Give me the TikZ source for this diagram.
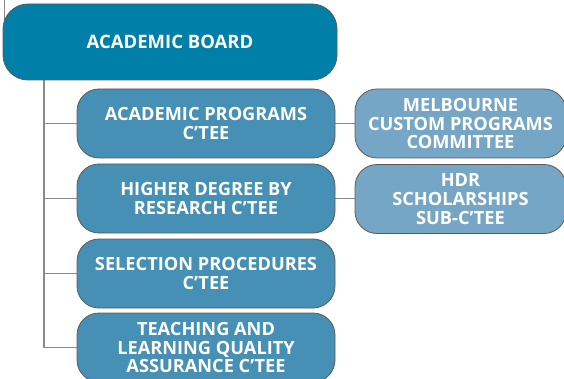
\documentclass[tikz,border=0pt]{standalone}
\usepackage{fontspec}
\setmainfont{Open Sans}[BoldFont={* Bold}]
\usetikzlibrary{backgrounds}
\definecolor{boardfill}{HTML}{0080A8}
\definecolor{childfill}{HTML}{4690B5}
\definecolor{subfill}{HTML}{76A6C6}
\definecolor{edgecol}{HTML}{5A5A5A}
\definecolor{linkcol}{HTML}{8A8A8A}
\tikzset{
  boxbase/.style={draw=edgecol, line width=0.8pt, text=white, align=center,
    font=\fontsize{18.2}{18.6}\selectfont\bfseries, inner sep=0pt},
  boardbox/.style={boxbase, fill=boardfill, minimum width=334pt, minimum height=76pt, rounded corners=25pt,
    font=\fontsize{18.5}{19}\selectfont\bfseries},
  childbox/.style={boxbase, fill=childfill, minimum width=258pt, minimum height=69pt, rounded corners=22pt},
  subbox/.style={boxbase, fill=subfill, minimum width=211pt, minimum height=69pt, rounded corners=22pt},
  link/.style={draw=linkcol, line width=1.2pt}
}
\begin{document}
\begin{tikzpicture}[x=1pt,y=-1pt]
\useasboundingbox (0,0) rectangle (564,379);
\node[boardbox] (board) at (170,42) {ACADEMIC BOARD};
\node[childbox] (c1) at (206,123.5) {ACADEMIC PROGRAMS\\C’TEE};
\node[childbox] (c2) at (206,198.5) {HIGHER DEGREE BY\\RESEARCH C’TEE};
\node[childbox] (c3) at (206,273.5) {SELECTION PROCEDURES\\C’TEE};
\node[childbox] (c4) at (206,347.5) {TEACHING AND\\LEARNING QUALITY\\ASSURANCE C’TEE};
\node[subbox] (r1) at (460.5,123.5) {MELBOURNE\\CUSTOM PROGRAMS\\COMMITTEE};
\node[subbox] (r2) at (460.5,199) {HDR\\SCHOLARSHIPS\\SUB-C’TEE};
\coordinate (top) at (4.3,0);
\coordinate (tx) at (44,0);
\begin{scope}[on background layer]
  \draw[link] (top) -- ++(0,22);
  \draw[link] (board.south -| tx) |- (c4.west);
  \draw[link] (c1.west -| tx) -- (c1.west);
  \draw[link] (c2.west -| tx) -- (c2.west);
  \draw[link] (c3.west -| tx) -- (c3.west);
  \draw[link] (c1.east) -- (r1.west);
  \draw[link] (c2.east) -- (c2.east -| r2.west);
\end{scope}
\end{tikzpicture}
\end{document}
